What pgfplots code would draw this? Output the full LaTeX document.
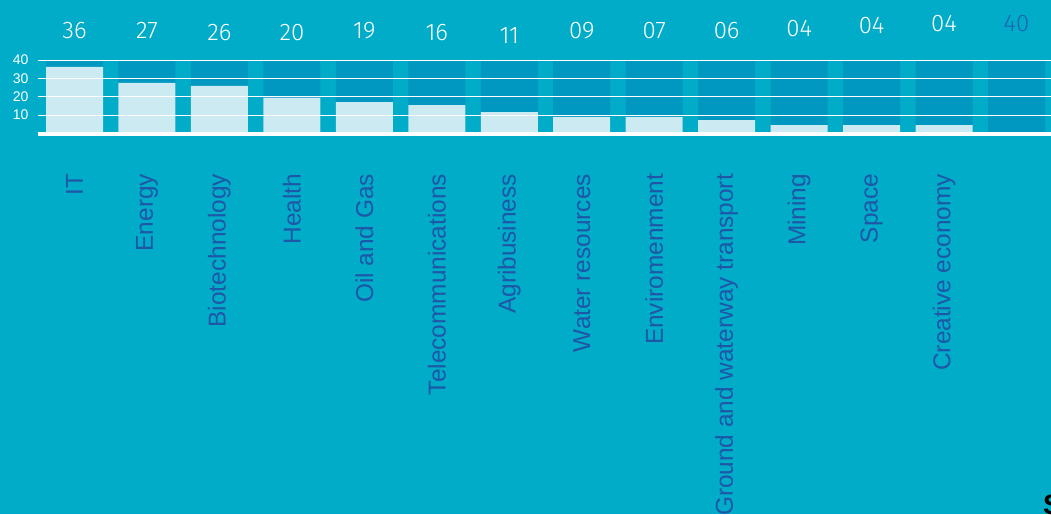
\documentclass[border=0pt]{standalone}
\usepackage{fontspec}
\setmainfont{Liberation Sans}
\newfontfamily\thinfont{Fira Sans Light}
\usepackage{pgfplots}
\pgfplotsset{compat=1.18}
\usepackage{pgfplotstable}

\definecolor{bg}{HTML}{00ACC8}
\definecolor{stripe}{HTML}{0098C0}
\definecolor{barc}{HTML}{CCEAF2}
\definecolor{txtblue}{HTML}{1E56A8}
\definecolor{totblue}{HTML}{1F64B4}

% x  bar height  full column  label y  label
\pgfplotstableread{
x  h     full  top   lab
0  36.2  40    55.8  36
1  27.5  40    56.3  27
2  25.9  40    55.2  26
3  19.5  40    55.2  20
4  17.1  40    55.8  19
5  15.5  40    54.7  16
6  11.7  40    53.1  11
7  9.1   40    55.8  09
8  9.0   40    55.8  07
9  7.3   40    55.8  06
10 4.6   40    57.4  04
11 4.6   40    58.5  04
12 4.6   40    59.6  04
13 0     40    59.6  {}
}\data

\begin{document}
\begin{tikzpicture}[x=1pt,y=1pt]
\fill[bg] (-38,-380.5) rectangle (1013,133.5);
\begin{axis}[
    at={(0,0)}, anchor=south west,
    scale only axis, width=1013pt, height=73.5pt,
    xmin=-0.504, xmax=13.476, ymin=0, ymax=40,
    axis line style={draw=none},
    major tick length=0pt,
    xtick={0,...,13},
    xticklabels={IT,Energy,Biotechnology,Health,Oil and Gas,Telecommunications,Agribusiness,Water resources,Enviromenment,Ground and waterway transport,Mining,Space,Creative economy,{}},
    xticklabel style={rotate=90, anchor=east, text=txtblue,
        font=\fontsize{24.4}{24.4}\selectfont, xshift=-37pt},
    ytick={10,20,30,40},
    yticklabel style={text=white, font=\fontsize{14}{14}\selectfont, xshift=-6pt},
    /pgf/number format/assume math mode=true,
    ymajorgrids, grid style={white, line width=0.9pt},
    extra y ticks={0}, extra y tick labels={},
    extra y tick style={grid style={white, line width=4pt}},
    axis on top, clip=false,
  ]
  \addplot[ybar, bar width=57pt, bar shift=0pt, fill=stripe, draw=none]
    table[x=x, y=full]{\data};
  \addplot[ybar, bar width=57pt, bar shift=0pt, fill=barc, draw=none]
    table[x=x, y=h]{\data};
  \addplot[draw=none, mark=none, nodes near coords, point meta=explicit symbolic,
    nodes near coords style={anchor=center, text=white,
        font=\thinfont\fontsize{24}{24}\selectfont}]
    table[x=x, y=top, meta=lab]{\data};
  \addplot[draw=none, mark=none, nodes near coords, point meta=explicit symbolic,
    nodes near coords style={anchor=center, text=totblue,
        font=\thinfont\fontsize{24}{24}\selectfont}]
    coordinates {(13,59.6) [40]};
\end{axis}
\node[anchor=north west, inner sep=0pt, font=\bfseries\fontsize{28}{28}\selectfont]
  at (1005,-361.5) {S};
\pgfresetboundingbox
\path[use as bounding box] (-38,-380.5) rectangle (1013,133.5);
\end{tikzpicture}
\end{document}
